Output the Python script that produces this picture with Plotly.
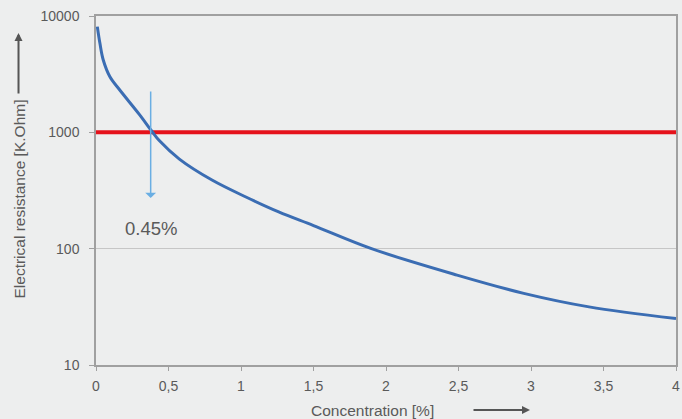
import plotly.graph_objects as go

# Data
concentration = [0.009, 0.027, 0.05, 0.096, 0.164, 0.30, 0.384, 0.438, 0.575, 0.80, 1.034,
                 1.26, 1.50, 1.90, 2.49, 2.95, 3.40, 4.0]
resistance = [8100, 5820, 4190, 3005, 2310, 1420, 1026, 845, 589, 389, 278,
              207, 158, 100, 59.3, 41.3, 31.6, 25.1]
threshold_x = [0, 4]
threshold_y = [1000, 1000]
x_ticks = [0, 0.5, 1, 1.5, 2, 2.5, 3, 3.5, 4]
x_tick_labels = ["0", "0,5", "1", "1,5", "2", "2,5", "3", "3,5", "4"]
y_ticks = [10, 100, 1000, 10000]
y_tick_labels = ["10", "100", "1000", "10000"]
marker_x = 0.377
marker_label = "0.45%"

BG = "#edeeee"
TXT = "#5a5a5a"
FONT = "Liberation Sans, Arial, sans-serif"

fig = go.Figure()
fig.add_trace(go.Scatter(x=threshold_x, y=threshold_y, mode="lines",
                         line=dict(color="#e5121b", width=4), hoverinfo="skip"))
fig.add_trace(go.Scatter(x=concentration, y=resistance, mode="lines",
                         line=dict(color="#3b6db3", width=3, shape="spline", smoothing=1.0)))

fig.update_layout(
    width=682, height=419,
    margin=dict(l=96, r=2, t=16, b=54),
    paper_bgcolor=BG, plot_bgcolor=BG,
    showlegend=False,
    font=dict(family=FONT, size=14, color=TXT),
)
fig.update_xaxes(range=[0, 4], tickvals=x_ticks, ticktext=x_tick_labels,
                 showgrid=False, zeroline=False,
                 showline=True, linecolor="#a0a0a0", linewidth=1.5, mirror=True,
                 ticks="outside", ticklen=4, tickcolor="#a0a0a0",
                 ticklabelstandoff=3, ticklabeloverflow="allow",
                 tickfont=dict(size=14, color=TXT))
fig.update_yaxes(type="log", range=[1, 4], tickvals=y_ticks, ticktext=y_tick_labels,
                 showgrid=True, gridcolor="#c6c6c6", gridwidth=1,
                 zeroline=False,
                 showline=True, linecolor="#a0a0a0", linewidth=1.5, mirror=True,
                 ticks="outside", ticklen=5, tickcolor="#a0a0a0",
                 ticklabelstandoff=7,
                 tickfont=dict(size=14, color=TXT))

# Axis titles as annotations with arrows
fig.add_annotation(text="Electrical resistance [K.Ohm]", xref="paper", yref="paper",
                   x=-0.1336, y=(365 - 199) / 349, textangle=-90, showarrow=False,
                   font=dict(size=15.5, color=TXT), xanchor="center", yanchor="middle")
fig.add_annotation(text="", xref="paper", yref="paper",
                   x=-0.1336, y=(365 - 33) / 349, ax=0, ay=62,
                   showarrow=True, arrowhead=2, arrowsize=0.8, arrowwidth=2,
                   arrowcolor="#555555")
fig.add_annotation(text="Concentration [%]", xref="paper", yref="paper",
                   x=(374 - 96) / 584, y=(365 - 410) / 349, showarrow=False,
                   font=dict(size=15.5, color=TXT), xanchor="center", yanchor="middle")
fig.add_annotation(text="", xref="paper", yref="paper",
                   x=(533 - 96) / 584, y=(365 - 410) / 349, ax=-58, ay=0,
                   showarrow=True, arrowhead=2, arrowsize=0.8, arrowwidth=2,
                   arrowcolor="#555555")

# Marker arrow and label
fig.add_annotation(text="", x=marker_x, y=2.435, xref="x", yref="y",
                   ax=0, ay=-108, showarrow=True, arrowhead=1, arrowsize=1.2,
                   arrowwidth=1.5, arrowcolor="#6aaee3")
fig.add_annotation(text=marker_label, x=marker_x, y=2.177, xref="x", yref="y",
                   showarrow=False, font=dict(size=18.5, color=TXT))

fig.write_html("out.html", config={"displayModeBar": False},
               post_script="document.body.style.margin='0';")
